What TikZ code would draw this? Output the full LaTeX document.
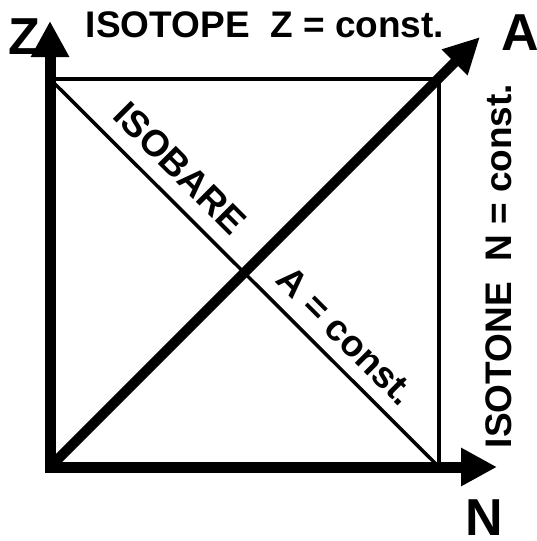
\documentclass[tikz,border=0pt]{standalone}
\usepackage{fontspec}
\setmainfont{Liberation Sans}
\usetikzlibrary{arrows.meta}
\begin{document}
\begin{tikzpicture}[x=1pt,y=-1pt,
  axisline/.style={line width=11pt,-{Triangle[length=36pt,width=36pt]}},
  diagline/.style={line width=10pt,-{Triangle[length=36pt,width=34pt]}},
  sqline/.style={line width=3.5pt},
  biglab/.style={font=\bfseries\fontsize{52}{56}\selectfont,inner sep=0pt},
  txtlab/.style={font=\bfseries\fontsize{37}{40}\selectfont,inner sep=0pt}]
\useasboundingbox (0,0) rectangle (537,541);
\coordinate (O) at (50,467);
\coordinate (Ztip) at (50,21);
\coordinate (Ntip) at (497,467);
\coordinate (Atip) at (480,37);
\coordinate (TL) at (50,79);
\coordinate (TR) at (439,79);
\coordinate (BR) at (439,467);
\draw[sqline] (TL) -- (TR) -- (BR);
\draw[sqline] (TL) -- (BR);
\draw[diagline] (O) -- (Atip);
\draw[axisline] ([yshift=-5.5pt]O) -- (Ztip);
\draw[axisline] ([xshift=-5.5pt]O) -- (Ntip);
\node[biglab] (zl) at (24,37) {Z};
\node[biglab] (al) at (520,33) {A};
\node[biglab] (nl) at (484,518) {N};
\node[txtlab] (iso) at (265,25) {ISOTOPE\ \ Z = const.};
\node[txtlab,rotate=90] (ison) at (499,266) {ISOTONE\ \ N = const.};
\node[txtlab,rotate=-45] (isob) at (180,168) {ISOBARE};
\node[txtlab,rotate=-45] (ac) at (346,336) {A = const.};
\end{tikzpicture}
\end{document}
